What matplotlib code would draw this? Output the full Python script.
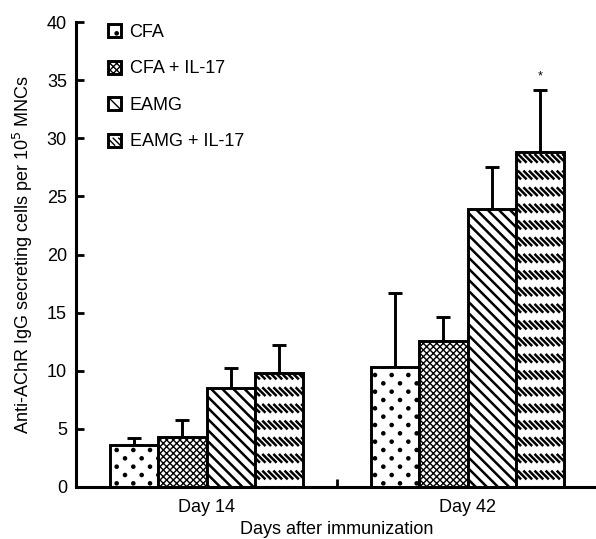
import numpy as np
import matplotlib
matplotlib.use("Agg")
import matplotlib.pyplot as plt
from matplotlib import hatch as mhatch
from matplotlib.path import Path

plt.rcParams['font.family'] = ['Liberation Sans', 'DejaVu Sans']
plt.rcParams['font.size'] = 13

# data
days = ['Day 14', 'Day 42']
groups = ['CFA', 'CFA + IL-17', 'EAMG', 'EAMG + IL-17']
cfa = [3.6, 10.3]
cfa_err = [0.6, 6.4]
cfa_il17 = [4.3, 12.6]
cfa_il17_err = [1.5, 2.0]
eamg = [8.5, 23.9]
eamg_err = [1.7, 3.6]
eamg_il17 = [9.8, 28.8]
eamg_il17_err = [2.4, 5.4]
star_day = 1  # significance mark above EAMG + IL-17 at day 42


# two extra hatch patterns the stock set doesn't have:
# 'O' -> staggered dot lattice, '*' -> rows of short backslash dashes
class DotRows(mhatch.HatchPatternBase):
    def __init__(self, hatch, density):
        n = hatch.count('O') * density
        circle = Path.unit_circle()
        self.shape_vertices = circle.vertices
        self.shape_codes = circle.codes
        self.n = n
        self.centers = []
        for k in range(2 * n + 1 if n else 0):
            if k % 2 == 0:
                xs = np.arange(n + 1) / n
            else:
                xs = (np.arange(n) + 0.5) / n
            self.centers += [(xx, k / (2 * n)) for xx in xs]
        self.num_vertices = len(self.centers) * len(self.shape_vertices)

    def set_vertices_and_codes(self, vertices, codes):
        nv = len(self.shape_vertices)
        r = 0.095 / self.n
        for i, c in enumerate(self.centers):
            vertices[i * nv:(i + 1) * nv] = self.shape_vertices * r + c
            codes[i * nv:(i + 1) * nv] = self.shape_codes


class DashRows(mhatch.HatchPatternBase):
    def __init__(self, hatch, density):
        c = hatch.count('*')
        self.rows = c * density
        self.per_row = 3 * c * density
        self.h = 0.07
        self.num_vertices = 2 * self.rows * (self.per_row + 2) if c else 0

    def set_vertices_and_codes(self, vertices, codes):
        i = 0
        for r in range(self.rows):
            yc = (r + 0.5) / self.rows
            for j in range(-1, self.per_row + 1):
                xc = j / self.per_row
                vertices[i] = (xc - self.h / 2, yc + self.h / 2)
                vertices[i + 1] = (xc + self.h / 2, yc - self.h / 2)
                codes[i] = Path.MOVETO
                codes[i + 1] = Path.LINETO
                i += 2


mhatch._hatch_types = [t for t in mhatch._hatch_types
                       if t not in (mhatch.LargeCircles, mhatch.Stars)]
mhatch._hatch_types += [DotRows, DashRows]

means = [cfa, cfa_il17, eamg, eamg_il17]
errs = [cfa_err, cfa_il17_err, eamg_err, eamg_il17_err]
hatches = ['O', 'xxxxx', '\\\\\\', '*']
hatch_lw = [1.0, 1.0, 1.8, 1.8]

fig = plt.figure(figsize=(5.96, 5.39), dpi=100)
ax = fig.add_axes([0.1275, 0.0965, 0.876, 0.8625])

x = np.arange(len(days))
width = 0.185
handles = []
for i, (m, e) in enumerate(zip(means, errs)):
    pos = x + (i - 1.5) * width
    with plt.rc_context({'hatch.linewidth': hatch_lw[i]}):
        bars = ax.bar(pos, m, width, color='white', edgecolor='black',
                      hatch=hatches[i], linewidth=2.1, zorder=2)
    for b in bars:
        if hasattr(b, 'set_hatch_linewidth'):
            b.set_hatch_linewidth(hatch_lw[i])
    ax.errorbar(pos, m, yerr=[np.zeros(len(m)), e], fmt='none',
                ecolor='black', elinewidth=2.1, capsize=4.7, capthick=2.1,
                zorder=1)
    handles.append(bars)

sx = x[star_day] + 1.5 * width
ax.text(sx, eamg_il17[star_day] + eamg_il17_err[star_day] + 1.1, '*',
        ha='center', va='center', fontsize=9)

ax.set_xlim(-0.5, 1.5)
ax.set_ylim(0, 40)
ax.set_yticks(np.arange(0, 41, 5))
ax.set_xticks(x)
ax.set_xticklabels(days)
ax.set_xticks([0.5, 1.5], minor=True)
ax.tick_params(axis='x', which='major', length=0, pad=9)
ax.tick_params(axis='x', which='minor', direction='in', length=6, width=2)
ax.tick_params(axis='y', direction='in', length=6, width=2, pad=6.5)
for s in ['top', 'right']:
    ax.spines[s].set_visible(False)
for s in ['left', 'bottom']:
    ax.spines[s].set_linewidth(2.2)

ax.set_xlabel('Days after immunization', labelpad=3)
ax.set_ylabel('Anti-AChR IgG secreting cells per 10$^5$ MNCs')
ax.yaxis.set_label_coords(-0.078, 0.5)

ax.legend(handles, groups, loc='upper left', bbox_to_anchor=(0.061, 0.996),
          frameon=False, borderpad=0, borderaxespad=0, handlelength=0.75,
          handleheight=0.75, handletextpad=0.45, labelspacing=1.08)

fig.savefig('out.png', dpi=100)
